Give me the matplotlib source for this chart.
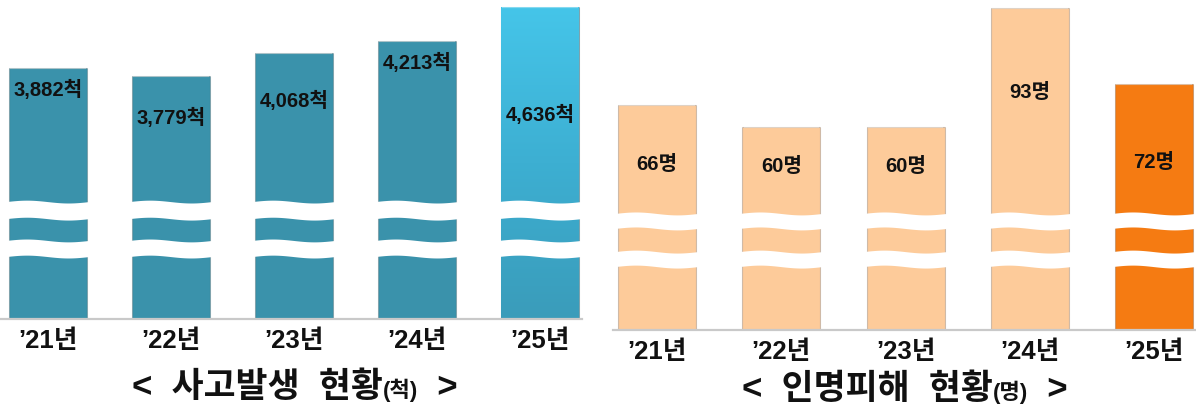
import numpy as np
import matplotlib
matplotlib.use("Agg")
import matplotlib.pyplot as plt
from matplotlib.offsetbox import TextArea, HPacker, AnchoredOffsetbox
from matplotlib.colors import LinearSegmentedColormap
import matplotlib.transforms as mtransforms

plt.rcParams['font.family'] = ['Liberation Sans', 'Noto Sans CJK KR', 'DejaVu Sans']

# ---- data ----
years = ["’21년", "’22년", "’23년", "’24년", "’25년"]
accidents = [3882, 3779, 4068, 4213, 4636]     # 사고발생 (척)
casualties = [66, 60, 60, 93, 72]              # 인명피해 (명)

# ---- styling ----
W, H = 1196, 406
teal = "#3A92AB"
peach = "#FDCB9A"
orange = "#F57B12"
acc_label_y = [90, 118, 101, 63, 115]          # label centres in figure pixels
cas_label_y = [165, 167, 167, 93, 162]

fig = plt.figure(figsize=(W / 100, H / 100), dpi=100)


def px_rect(x0, y_top, x1, y_bot):
    return [x0 / W, 1 - y_bot / H, (x1 - x0) / W, (y_bot - y_top) / H]


def wave_band(ax, xc, width, y0, y1, amp=0.0045, phase=0.0):
    """White wavy strip across a bar (axes-fraction heights)."""
    trans = mtransforms.blended_transform_factory(ax.transData, ax.transAxes)
    xs = np.linspace(xc - width / 2 - 0.02, xc + width / 2 + 0.02, 60)
    t = (xs - xs[0]) / (xs[-1] - xs[0])
    top = y1 + amp * np.sin(2 * np.pi * t + phase)
    bot = y0 + amp * np.sin(2 * np.pi * t + phase)
    ax.fill(np.r_[xs, xs[::-1]], np.r_[top, bot[::-1]], color="white",
            transform=trans, zorder=5, lw=0)


def draw_panel(ax, values, colors, ylim, xlim, width, bands, base_x, grads):
    x = np.arange(len(values))
    bars = ax.bar(x, values, width=width, color=colors, zorder=2,
                  edgecolor=(0, 0, 0, 0.18), linewidth=0.8)
    for b, g in zip(bars, grads):
        if g is None:
            continue
        cmap = LinearSegmentedColormap.from_list("g", g)
        grad = np.linspace(0, 1, 256).reshape(-1, 1)
        im = ax.imshow(grad, cmap=cmap, aspect="auto", origin="lower",
                       extent=[b.get_x(), b.get_x() + b.get_width(),
                               ylim[0], b.get_height()], zorder=3)
        im.set_clip_path(b)
    # light highlight along bar tops
    for b in bars:
        ax.plot([b.get_x() + 0.01, b.get_x() + b.get_width() - 0.01],
                [b.get_height()] * 2, color=(1, 1, 1, 0.35), lw=1.6,
                zorder=4, solid_capstyle="butt")
    for xi in x:
        for (y0, y1, ph) in bands:
            wave_band(ax, xi, width, y0, y1, phase=ph)
    ax.set_ylim(*ylim)
    ax.set_xlim(*xlim)
    ax.axhline(ylim[0], xmin=(base_x[0] - xlim[0]) / (xlim[1] - xlim[0]),
               xmax=(base_x[1] - xlim[0]) / (xlim[1] - xlim[0]),
               color="#C9C9C9", lw=1.6, zorder=6, clip_on=False)
    ax.axis("off")
    return x


# ---- left panel: 사고발생 ----
axL = fig.add_axes(px_rect(0, 4, 601.5, 320))
xL = draw_panel(axL, accidents,
                [teal] * 5,
                ylim=(761, 4686), xlim=(-0.39, 4.5), width=0.634,
                bands=[(0.316, 0.370, 0.0), (0.196, 0.247, 0.0)],
                base_x=(-0.39, 4.34),
                grads=[None] * 4 + [["#3A9CBA", "#3DAFD2", "#45C5E9"]])

# ---- right panel: 인명피해 ----
axR = fig.add_axes(px_rect(600, 5, 1196, 331))
xR = draw_panel(axR, casualties,
                [peach] * 4 + [orange],
                ylim=(3.7, 94.1), xlim=(-0.459, 4.338), width=0.628,
                bands=[(0.310, 0.356, 0.0), (0.193, 0.239, 0.0)],
                base_x=(-0.354, 4.338),
                grads=[None] * 5)

# value labels and year labels
for ax, xs, vals, ys, fmt, ytick in [
        (axL, xL, accidents, acc_label_y, "{:,}척", 341),
        (axR, xR, casualties, cas_label_y, "{}명", 352)]:
    trans = mtransforms.blended_transform_factory(ax.transData, fig.transFigure)
    for xi, v, yp in zip(xs, vals, ys):
        ax.text(xi, 1 - yp / H, fmt.format(v), transform=trans, ha="center",
                va="center", fontsize=14.5, fontweight="bold", color="#111111",
                zorder=10)
    for xi, lab in zip(xs, years):
        ax.text(xi, 1 - ytick / H, lab, transform=trans, ha="center",
                va="center", fontsize=18.5, fontweight="bold", color="#111111",
                clip_on=False)


def panel_title(cx, cy, main, unit):
    big = dict(fontsize=25, fontweight="bold", color="#111111")
    small = dict(fontsize=16, fontweight="bold", color="#111111")
    box = HPacker(children=[TextArea("<  " + main, textprops=big),
                            TextArea(unit, textprops=small),
                            TextArea("  >", textprops=big)],
                  align="baseline", pad=0, sep=0)
    anchored = AnchoredOffsetbox(loc="center", child=box, frameon=False,
                                 bbox_to_anchor=(cx / W, 1 - cy / H),
                                 bbox_transform=fig.transFigure, pad=0,
                                 borderpad=0)
    fig.add_artist(anchored)


panel_title(295, 388, "사고발생  현황", "(척)")
panel_title(905, 390, "인명피해  현황", "(명)")

fig.savefig("out.png", dpi=100)
